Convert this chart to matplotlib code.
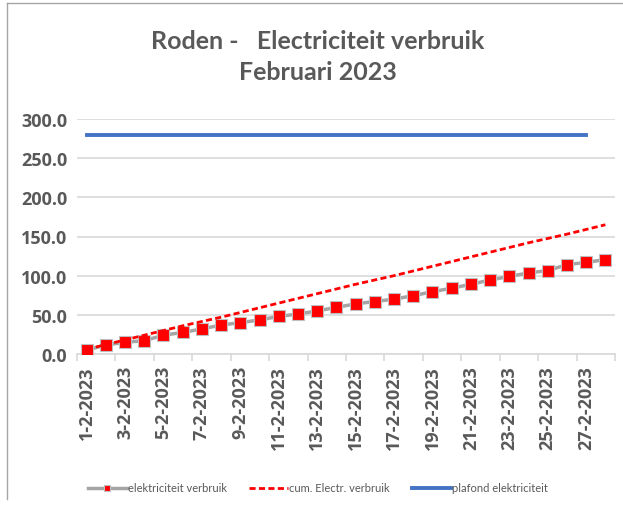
import matplotlib
matplotlib.use("Agg")
import matplotlib.pyplot as plt
from matplotlib.lines import Line2D
import numpy as np

days = [f"{d}-2-2023" for d in range(1, 29)]
verbruik = [5, 11.5, 15, 17, 24, 27.5, 32, 37, 40, 43.5, 48, 51, 55, 59.5, 64, 67,
            70, 74.5, 79.5, 84, 89, 94.5, 99, 103.5, 106.5, 114, 117, 120.5]
cum = [6, 12, 18, 24, 30, 36, 41.5, 47, 53, 59, 65, 71, 77, 83, 89, 94.5,
       100, 106, 112, 118, 124, 130, 136, 142, 147.5, 153, 159, 165]
plafond = [280] * 27 + [np.nan]

title_text = "Roden -   Electriciteit verbruik\nFebruari 2023"
labels = ["elektriciteit verbruik", "cum. Electr. verbruik", "plafond elektriciteit"]

plt.rcParams['font.family'] = ['Lato', 'DejaVu Sans']
W, H = 623, 506
fig = plt.figure(figsize=(W/100, H/100), dpi=100)
ax = fig.add_axes([77/W, 1-355/H, (615-77)/W, (355-120)/H])

x = np.arange(len(days))
ax.plot(x, verbruik, color='#A5A5A5', lw=2.5, marker='s', ms=9,
        mfc='#FF0000', mec='#BFBFBF', mew=0.8, label=labels[0], zorder=3)
ax.plot(x, cum, color='#FF0000', lw=2, ls=(0, (2.2, 1.2)), label=labels[1], zorder=4)
ax.plot(x, plafond, color='#4472C4', lw=2.8, label=labels[2], zorder=2)

tickfont = ['Open Sans', 'DejaVu Sans']
ax.set_xlim(-0.5, len(days) - 0.5)
ax.set_ylim(0, 300)
ax.set_yticks(np.arange(0, 301, 50))
ax.set_yticklabels([f"{v:.1f}" for v in np.arange(0, 301, 50)], family=tickfont,
                   fontweight='bold', fontsize=13)
ax.yaxis.grid(True, color='#D9D9D9', lw=1.2)
ax.set_axisbelow(True)
ax.tick_params(axis='y', length=0, pad=7, labelcolor='#595959')

ax.set_xticks(np.arange(-0.5, len(days), 2))
ax.set_xticklabels([])
ax.tick_params(axis='x', which='major', length=5, color='#D9D9D9', width=1.2)
ax.set_xticks(x[::2], minor=True)
ax.set_xticklabels(days[::2], minor=True, rotation=90, fontsize=13, family=tickfont,
                   fontweight='bold', color='#595959')
ax.tick_params(axis='x', which='minor', length=0, pad=8)

for s in ['left', 'right', 'top']:
    ax.spines[s].set_visible(False)
ax.spines['bottom'].set_color('#D9D9D9')
ax.spines['bottom'].set_linewidth(1.2)

fig.text(0.51, 1-57/H, title_text, ha='center', va='center', fontsize=18,
         fontweight='bold', color='#595959', linespacing=1.4)

leg = fig.legend(loc='center', bbox_to_anchor=(0.51, 1-489/H), ncol=3, frameon=False,
                 fontsize=8, handlelength=3.5, columnspacing=2.0, handletextpad=0.1,
                 labelcolor='#595959')
for h in leg.legend_handles:
    h.set_markersize(5)

fig.add_artist(Line2D([7/W, 7/W], [1-4/H, 1-500/H], transform=fig.transFigure,
                      color='#A6A6A6', lw=1))
fig.add_artist(Line2D([7/W, 1], [1-4/H, 1-4/H], transform=fig.transFigure,
                      color='#A6A6A6', lw=1))

fig.savefig("out.png", dpi=100, facecolor='white')
